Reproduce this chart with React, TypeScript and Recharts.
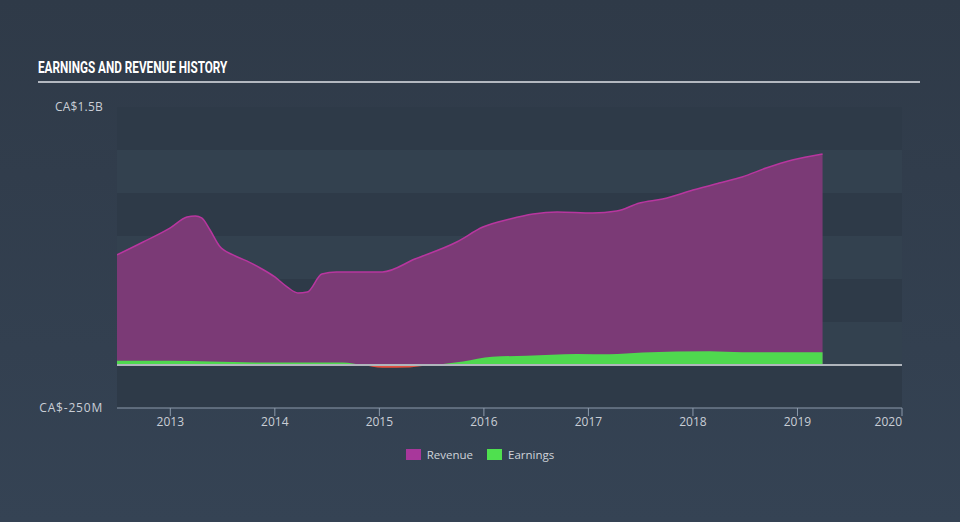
import {
  ComposedChart,
  Area,
  XAxis,
  YAxis,
  CartesianGrid,
  ReferenceLine,
  Legend,
} from 'recharts';

// values in CA$ millions, periods as fractional years
const revenuePeriods = [
  2012.49, 2012.74, 2013.0, 2013.16, 2013.24, 2013.3, 2013.38, 2013.47, 2013.6, 2013.73,
  2013.86, 2014.0, 2014.12, 2014.22, 2014.31, 2014.45, 2014.59, 2015.03, 2015.34, 2015.74,
  2015.99, 2016.25, 2016.47, 2016.7, 2017.04, 2017.27, 2017.49, 2017.71, 2018.0, 2018.25,
  2018.47, 2018.7, 2018.95, 2019.24,
];
const revenueValues = [
  640, 715, 797, 860, 866, 855, 785, 692, 640, 605,
  564, 512, 453, 419, 424, 529, 541, 541, 616, 715,
  802, 849, 878, 890, 884, 895, 942, 965, 1017, 1058,
  1093, 1145, 1192, 1227,
];

const earningsPeriods = [
  2012.49, 2013.0, 2013.38, 2013.86, 2014.65, 2014.84, 2015.03, 2015.29, 2015.45, 2015.61,
  2015.8, 2016.08, 2016.41, 2016.89, 2017.2, 2017.52, 2018.16, 2018.47, 2019.24,
];
const earningsValues = [
  25, 24, 21, 15, 15, 0, -16, -14, -3, 6,
  21, 48, 54, 64, 62, 72, 80, 74, 74,
];

const yearTicks = [2013, 2014, 2015, 2016, 2017, 2018, 2019, 2020];
const valueTicks = [-250, 0, 250, 500, 750, 1000, 1250, 1500];
const valueLabels: Record<number, string> = { 1500: 'CA$1.5B', [-250]: 'CA$-250M' };

const legendItems = [
  { name: 'Revenue', color: '#a8379b' },
  { name: 'Earnings', color: '#4fe04f' },
];

const revenueData = revenuePeriods.map((t, i) => ({ t, revenue: revenueValues[i] }));
const earningsData = earningsPeriods.map((t, i) => ({ t, earnings: earningsValues[i] }));

const eMax = Math.max(...earningsValues);
const eMin = Math.min(...earningsValues);
const zeroOffset = eMax / (eMax - eMin);

const FONT = "'Open Sans', sans-serif";

function XTick({ x, y, payload }: any) {
  const last = payload.value === yearTicks[yearTicks.length - 1];
  return (
    <text
      x={x}
      y={y}
      dy="0.71em"
      textAnchor={last ? 'end' : 'middle'}
      fill="#c9ced6"
      fontSize={12}
      fontFamily={FONT}
    >
      {payload.value}
    </text>
  );
}

function YTick({ x, y, payload }: any) {
  const label = valueLabels[payload.value];
  if (!label) return null;
  return (
    <text
      x={x}
      y={y}
      dy="0.355em"
      textAnchor="end"
      fill="#c9ced6"
      fontSize={12}
      fontFamily={FONT}
      letterSpacing={payload.value < 0 ? 0.8 : 0.2}
    >
      {label}
    </text>
  );
}

function renderLegend() {
  return (
    <div style={{ display: 'flex', justifyContent: 'center', gap: 14, fontFamily: FONT }}>
      {legendItems.map((item) => (
        <div key={item.name} style={{ display: 'flex', alignItems: 'center', gap: 6 }}>
          <div style={{ width: 15, height: 11, backgroundColor: item.color }} />
          <span style={{ color: '#cfd3d9', fontSize: 11.5 }}>{item.name}</span>
        </div>
      ))}
    </div>
  );
}

export default function App() {
  return (
    <div
      style={{
        position: 'absolute',
        left: 0,
        top: 0,
        width: 960,
        height: 522,
        overflow: 'hidden',
        background: 'linear-gradient(180deg, #2f3a48 0%, #354354 100%)',
      }}
    >
      <div
        style={{
          position: 'absolute',
          left: 38,
          top: 57,
          color: '#ffffff',
          fontFamily: 'Roboto, sans-serif',
          fontWeight: 700,
          fontSize: 17,
          whiteSpace: 'nowrap',
          transform: 'scaleX(0.69)',
          transformOrigin: 'left top',
        }}
      >
        EARNINGS AND REVENUE HISTORY
      </div>
      <div
        style={{
          position: 'absolute',
          left: 38,
          top: 81,
          width: 882,
          height: 2,
          backgroundColor: '#b3b8c0',
        }}
      />
      <div style={{ position: 'absolute', left: 0, top: 0 }}>
        <ComposedChart
          width={960}
          height={522}
          margin={{ top: 107, right: 58, bottom: 84, left: 17 }}
        >
          <defs>
            <linearGradient id="earnFill" x1="0" y1="0" x2="0" y2="1">
              <stop offset={zeroOffset} stopColor="#4fd84f" />
              <stop offset={zeroOffset} stopColor="#e4503f" />
            </linearGradient>
          </defs>
          <CartesianGrid
            vertical={false}
            stroke="none"
            horizontalFill={['#2e3a48', '#33414f']}
          />
          <XAxis
            type="number"
            dataKey="t"
            domain={[2012.49, 2020]}
            ticks={yearTicks}
            allowDataOverflow
            height={30}
            tickSize={8}
            tickMargin={1}
            axisLine={{ stroke: '#8c9aab' }}
            tickLine={{ stroke: '#8c9aab' }}
            tick={<XTick />}
          />
          <YAxis
            type="number"
            domain={[-250, 1500]}
            ticks={valueTicks}
            width={100}
            axisLine={false}
            tickLine={false}
            tickSize={6}
            tickMargin={8}
            tick={<YTick />}
          />
          <Area
            data={revenueData}
            dataKey="revenue"
            name="Revenue"
            type="monotone"
            stroke="#b8369f"
            strokeWidth={1.5}
            fill="#7b3a76"
            fillOpacity={1}
            isAnimationActive={false}
          />
          <Area
            data={earningsData}
            dataKey="earnings"
            name="Earnings"
            type="monotone"
            stroke="none"
            fill="url(#earnFill)"
            fillOpacity={1}
            isAnimationActive={false}
          />
          <ReferenceLine y={0} stroke="#b0b5bc" strokeWidth={2} />
          <Legend
            layout="horizontal"
            verticalAlign="middle"
            content={renderLegend}
            wrapperStyle={{ top: 447, left: 0, width: 960 }}
          />
        </ComposedChart>
      </div>
    </div>
  );
}
